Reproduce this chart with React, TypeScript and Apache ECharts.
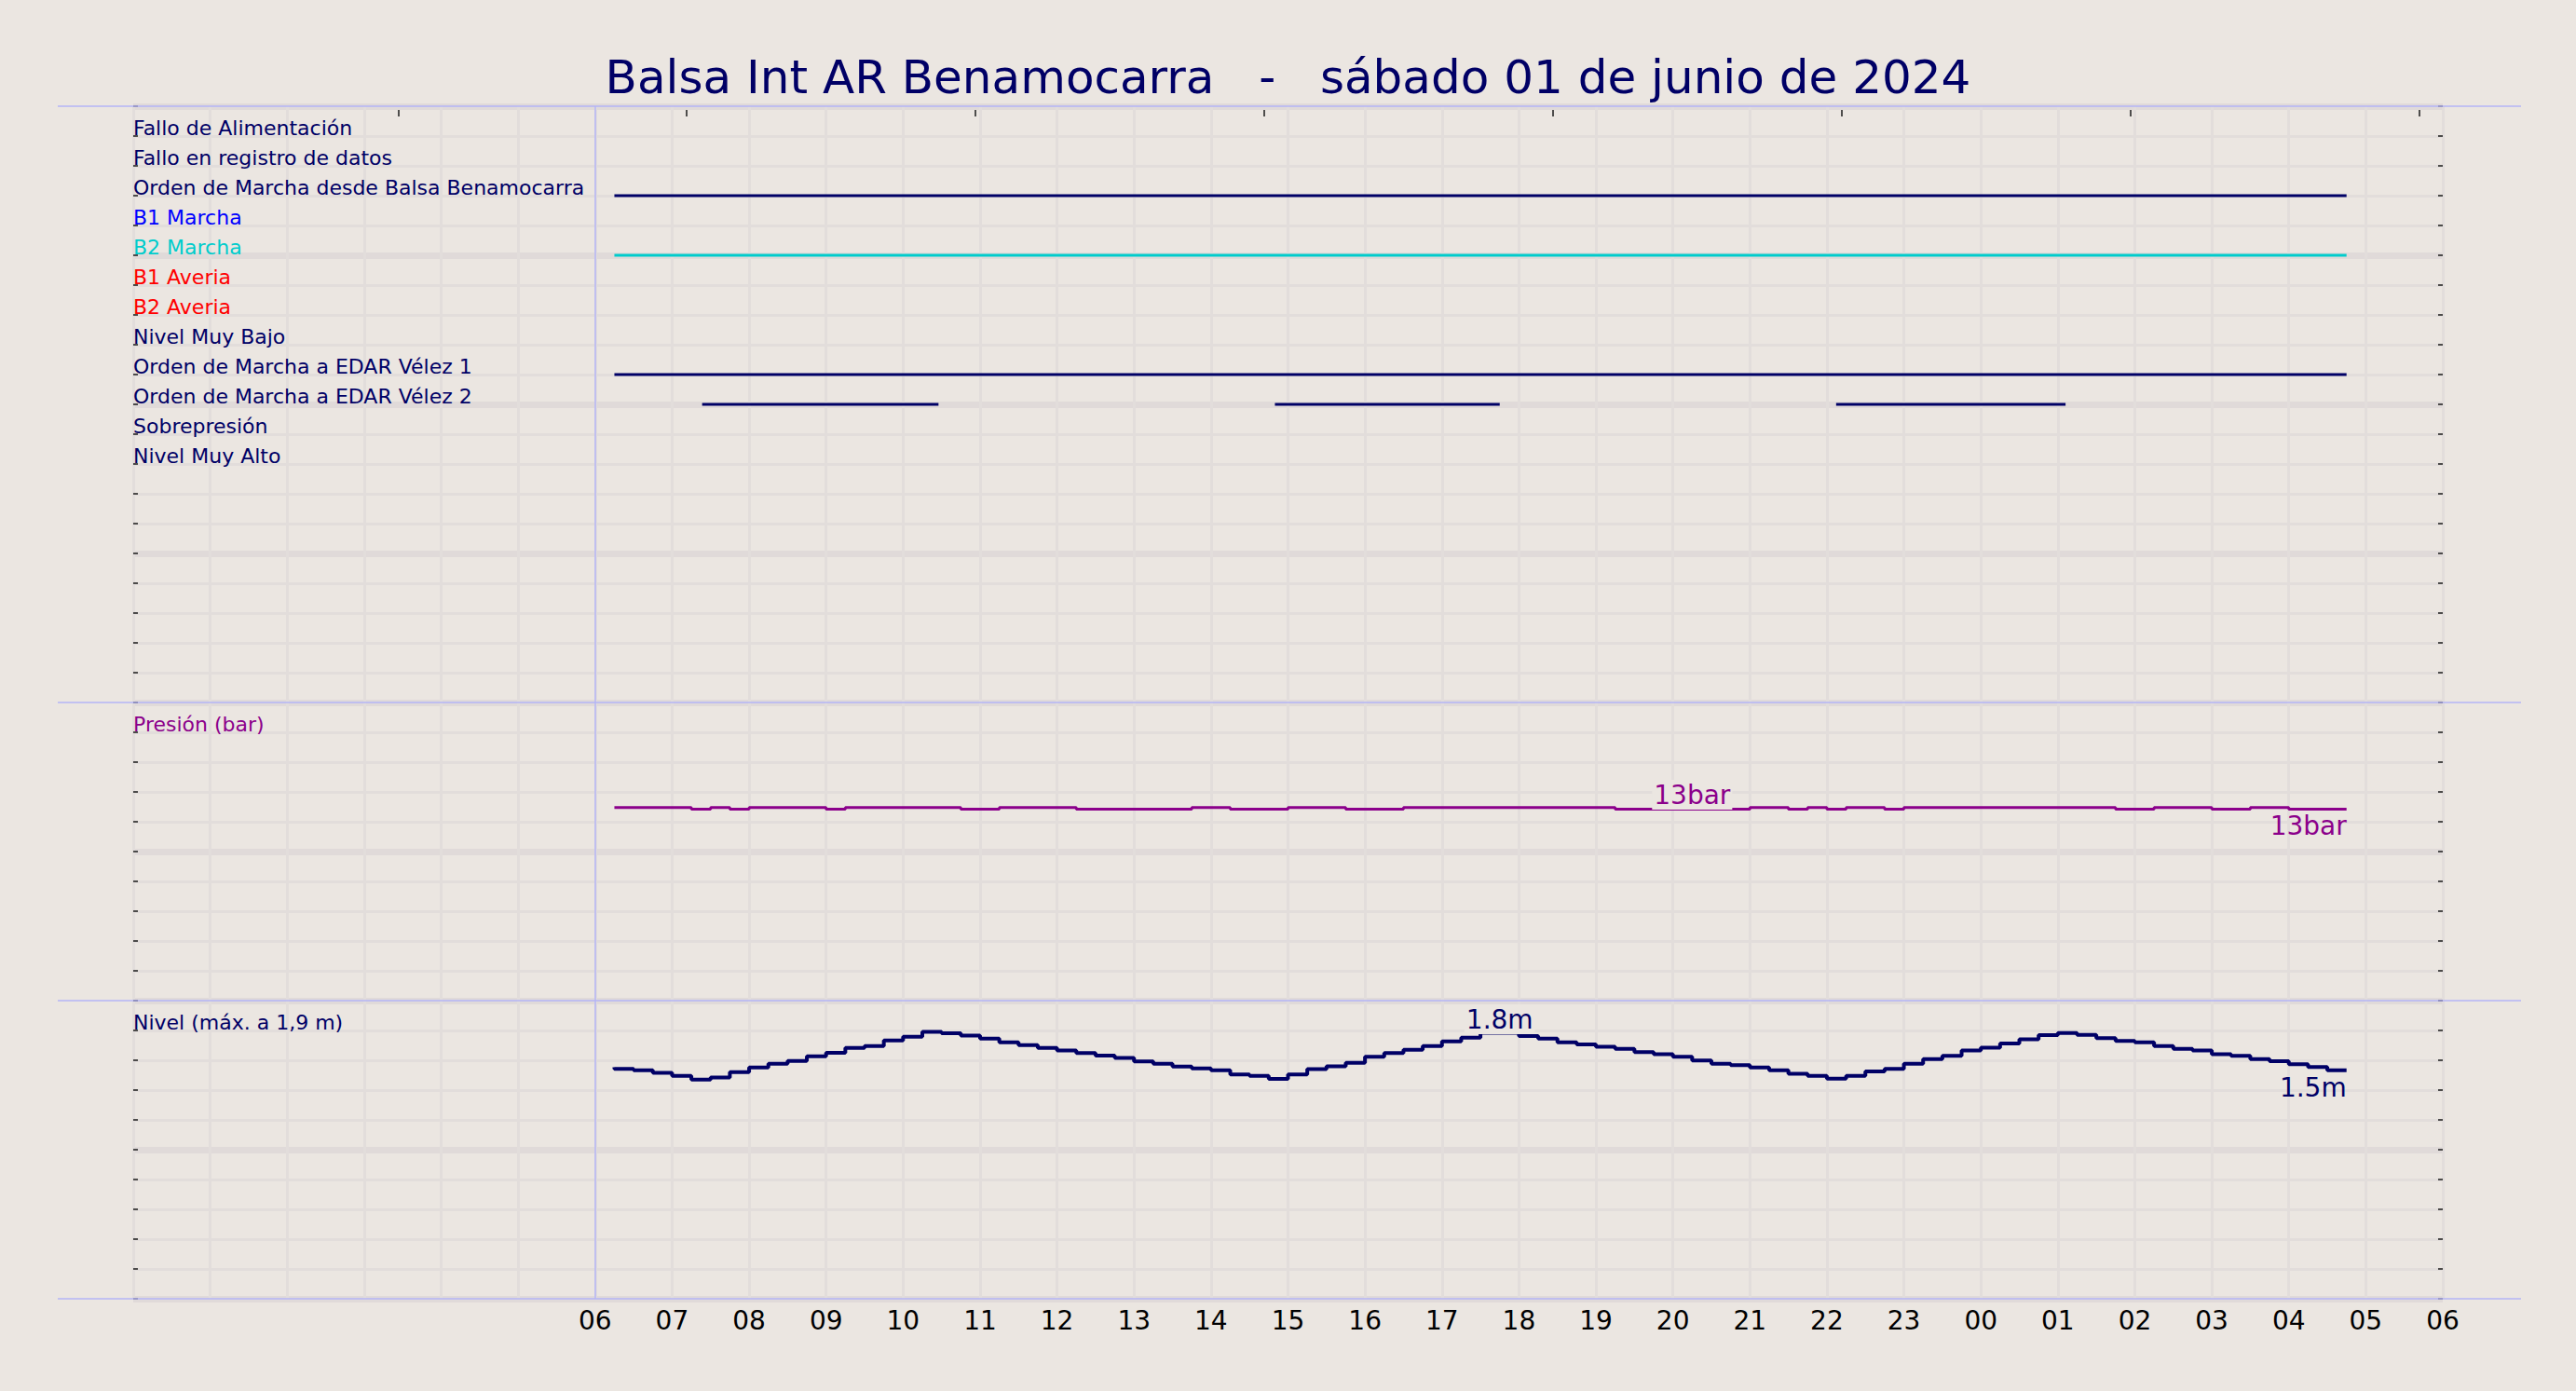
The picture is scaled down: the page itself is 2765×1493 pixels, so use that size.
import React, { useEffect, useRef } from "react";
import * as echarts from "echarts";

const NAVY = "#000066";
const PURPLE = "#8b008b";
const PAGE_BG = "#ebe6e1";
const GRID_LINE = "#e2dddb";
const GRID_MAJOR = "#e0dad9";
const FRAME_BLUE = "#b4b4f6";
const TICK = "#1a1a1a";
const FONT = "DejaVu Sans";

const titleText = "Balsa Int AR Benamocarra   -   sábado 01 de junio de 2024";

// digital channels, top to bottom
const signalNames = [
  "Fallo de Alimentación",
  "Fallo en registro de datos",
  "Orden de Marcha desde Balsa Benamocarra",
  "B1 Marcha",
  "B2 Marcha",
  "B1 Averia",
  "B2 Averia",
  "Nivel Muy Bajo",
  "Orden de Marcha a EDAR Vélez 1",
  "Orden de Marcha a EDAR Vélez 2",
  "Sobrepresión",
  "Nivel Muy Alto",
];
const signalColors = [
  NAVY, NAVY, NAVY, "#0000ff", "#00cccc", "#ff0000",
  "#ff0000", NAVY, NAVY, NAVY, NAVY, NAVY,
];
const firstSignalRow = 19;

const pressureTitle = "Presión (bar)";
const pressureTitleValue = 18;
const levelTitle = "Nivel (máx. a 1,9 m)";
const levelTitleValue = 1.8;

// labels under the bottom panel, 06 -> 06 next day
const hourLabels = [
  "06", "07", "08", "09", "10", "11", "12", "13", "14", "15", "16", "17",
  "18", "19", "20", "21", "22", "23", "00", "01", "02", "03", "04", "05", "06",
];
const firstLabelHour = 6;
const dayStartHour = 6;

// small marks along the top edge (hours from 00:00)
const topTickHours = [3.44, 7.19, 10.94, 14.69, 18.44, 22.19, 25.94, 29.69];

// on periods of the digital signals (hours from 00:00)
const balsaOrderOn = [[6.25, 28.75]];
const b2RunningOn = [[6.25, 28.75]];
const velez1OrderOn = [[6.25, 28.75]];
const velez2OrderOn = [[7.39, 10.46], [14.83, 17.75], [22.12, 25.1]];

// 15 min samples, 06:15 -> 04:45
const firstSampleHour = 6.25;
const sampleStepHours = 0.25;

const pressureBar = [
  12.95,
  12.95, 12.95, 12.95, 12.95, 12.85, 12.95, 12.85, 12.95, 12.95, 12.95,
  12.95, 12.85, 12.95, 12.95, 12.95, 12.95, 12.95, 12.95, 12.85, 12.85,
  12.95, 12.95, 12.95, 12.95, 12.85, 12.85, 12.85, 12.85, 12.85, 12.85,
  12.95, 12.95, 12.85, 12.85, 12.85, 12.95, 12.95, 12.95, 12.85, 12.85,
  12.85, 12.95, 12.95, 12.95, 12.95, 12.95, 12.95, 12.95, 12.95, 12.95,
  12.95, 12.95, 12.85, 12.85, 12.85, 12.85, 12.85, 12.85, 12.85, 12.95,
  12.95, 12.85, 12.95, 12.85, 12.95, 12.95, 12.85, 12.95, 12.95, 12.95,
  12.95, 12.95, 12.95, 12.95, 12.95, 12.95, 12.95, 12.95, 12.85, 12.85,
  12.95, 12.95, 12.95, 12.85, 12.85, 12.95, 12.95, 12.85, 12.85, 12.85,
];

const levelM = [
  1.553,
  1.542, 1.533, 1.515, 1.496, 1.471, 1.485, 1.521, 1.552, 1.577, 1.596,
  1.627, 1.65, 1.683, 1.696, 1.733, 1.758, 1.79, 1.781, 1.765, 1.746,
  1.721, 1.702, 1.683, 1.665, 1.648, 1.631, 1.615, 1.592, 1.577, 1.558,
  1.546, 1.533, 1.504, 1.496, 1.475, 1.504, 1.54, 1.56, 1.583, 1.623,
  1.648, 1.671, 1.696, 1.727, 1.752, 1.785, 1.785, 1.763, 1.746, 1.721,
  1.706, 1.69, 1.677, 1.654, 1.64, 1.623, 1.598, 1.577, 1.567, 1.552,
  1.533, 1.51, 1.496, 1.477, 1.496, 1.525, 1.542, 1.577, 1.608, 1.629,
  1.665, 1.685, 1.713, 1.74, 1.769, 1.783, 1.771, 1.748, 1.729, 1.721,
  1.696, 1.677, 1.665, 1.64, 1.629, 1.608, 1.594, 1.573, 1.554, 1.533,
];

const pressurePeakIndex = 56;
const levelPeakIndex = 46;

const PLOT_LEFT = 143;
const PLOT_WIDTH = 2479;
const panelTops = [114, 754, 1074];
const panelHeights = [640, 320, 320];
const FRAME_X1 = 62;
const FRAME_X2 = 2706;

const sampleTimes = levelM.map((_, i) => firstSampleHour + i * sampleStepHours);

const periodsToData = (periods: number[][], row: number) =>
  periods.flatMap(([s, e]) => [
    [s, row],
    [e, row],
    [e, null],
  ]);

const signalSeries = [
  { index: 2, periods: balsaOrderOn },
  { index: 4, periods: b2RunningOn },
  { index: 8, periods: velez1OrderOn },
  { index: 9, periods: velez2OrderOn },
];

const dayStartLine = {
  silent: true,
  symbol: ["none", "none"],
  label: { show: false },
  lineStyle: { color: FRAME_BLUE, width: 1.5, type: "solid" },
  data: [{ xAxis: dayStartHour }],
};

const hourAxis = (gridIndex: number, labels: boolean) => ({
  type: "value",
  gridIndex,
  position: "bottom",
  min: 0,
  max: 30,
  interval: 1,
  axisLine: { show: false, onZero: false },
  axisTick: { show: false },
  axisLabel: labels
    ? {
        show: true,
        margin: 9,
        fontSize: 28,
        fontFamily: FONT,
        color: "#000",
        showMinLabel: true,
        showMaxLabel: true,
        formatter: (v: number) =>
          v >= firstLabelHour ? hourLabels[Math.round(v) - firstLabelHour] : "",
      }
    : { show: false },
  splitLine: { show: true, lineStyle: { color: GRID_LINE, width: 3 } },
});

const rowAxes = (
  gridIndex: number,
  max: number,
  step: number,
  major: number,
  label: any
) => [
  {
    type: "value",
    gridIndex,
    position: "left",
    min: 0,
    max,
    interval: step,
    axisLine: { show: false, onZero: false },
    axisTick: { show: true, inside: true, length: 5, lineStyle: { color: TICK, width: 1.5 } },
    axisLabel: label,
    splitLine: { show: true, lineStyle: { color: GRID_LINE, width: 3 } },
  },
  {
    type: "value",
    gridIndex,
    position: "right",
    min: 0,
    max,
    interval: step,
    axisLine: { show: false, onZero: false },
    axisTick: { show: true, inside: true, length: 5, lineStyle: { color: TICK, width: 1.5 } },
    axisLabel: { show: false },
    splitLine: { show: false },
  },
  {
    type: "value",
    gridIndex,
    position: "left",
    min: 0,
    max,
    interval: major,
    axisLine: { show: false, onZero: false },
    axisTick: { show: false },
    axisLabel: { show: false },
    splitLine: { show: true, lineStyle: { color: GRID_MAJOR, width: 7 } },
  },
];

const panelLabel = (text: string, value: number, color: string) => ({
  show: true,
  inside: true,
  margin: 0,
  fontSize: 22,
  fontFamily: FONT,
  color,
  verticalAlign: "bottom",
  lineHeight: 18,
  formatter: (v: number) => (Math.abs(v - value) < 1e-6 ? text : ""),
});

const buildOption = (): any => {
  const lastIdx = levelM.length - 1;
  return {
    animation: false,
    backgroundColor: PAGE_BG,
    textStyle: { fontFamily: FONT },
    title: {
      text: titleText,
      left: "center",
      top: 58,
      padding: 0,
      textStyle: { fontSize: 50, fontWeight: "normal", color: NAVY, fontFamily: FONT },
    },
    grid: panelTops.map((top, i) => ({
      left: PLOT_LEFT,
      width: PLOT_WIDTH,
      top,
      height: panelHeights[i],
      containLabel: false,
      outerBoundsMode: "none",
    })),
    xAxis: [
      hourAxis(0, false),
      {
        type: "value",
        gridIndex: 0,
        position: "top",
        offset: -4,
        min: 0,
        max: 30,
        axisLine: { show: false, onZero: false },
        axisLabel: { show: false },
        splitLine: { show: false },
        axisTick: {
          show: true,
          inside: true,
          length: 7,
          customValues: topTickHours,
          lineStyle: { color: TICK, width: 1.5 },
        },
      },
      hourAxis(1, false),
      hourAxis(2, true),
    ],
    yAxis: [
      ...rowAxes(0, 20, 1, 5, {
        show: true,
        inside: true,
        margin: 0,
        fontSize: 22,
        fontFamily: FONT,
        verticalAlign: "bottom",
        lineHeight: 18,
        color: (v: number) => signalColors[firstSignalRow - v] ?? NAVY,
        formatter: (v: number) => signalNames[firstSignalRow - v] ?? "",
      }),
      ...rowAxes(1, 20, 2, 10, panelLabel(pressureTitle, pressureTitleValue, PURPLE)),
      ...rowAxes(2, 2, 0.2, 1, panelLabel(levelTitle, levelTitleValue, NAVY)),
    ],
    series: [
      ...signalSeries.map((s, k) => ({
        type: "line",
        name: signalNames[s.index],
        xAxisIndex: 0,
        yAxisIndex: 0,
        showSymbol: false,
        connectNulls: false,
        lineStyle: { color: signalColors[s.index], width: 3 },
        itemStyle: { color: signalColors[s.index] },
        data: periodsToData(s.periods, firstSignalRow - s.index),
        markLine: k === 0 ? dayStartLine : undefined,
      })),
      {
        type: "line",
        name: pressureTitle,
        xAxisIndex: 2,
        yAxisIndex: 3,
        step: "start",
        showSymbol: false,
        lineStyle: { color: PURPLE, width: 3 },
        itemStyle: { color: PURPLE },
        data: sampleTimes.map((t, i) => [t, pressureBar[i]]),
        markLine: dayStartLine,
        markPoint: {
          symbol: "circle",
          symbolSize: 1,
          itemStyle: { color: "transparent" },
          label: { fontSize: 28, fontFamily: FONT, color: PURPLE },
          data: [
            {
              coord: [sampleTimes[pressurePeakIndex], pressureBar[pressurePeakIndex]],
              label: {
                position: "top",
                distance: -1,
                backgroundColor: PAGE_BG,
                padding: [3, 2, 1, 2],
                formatter: () => `${Math.round(pressureBar[pressurePeakIndex])}bar`,
              },
            },
            {
              coord: [sampleTimes[lastIdx], pressureBar[lastIdx]],
              label: {
                position: "bottom",
                align: "right",
                distance: 4,
                formatter: () => `${Math.round(pressureBar[lastIdx])}bar`,
              },
            },
          ],
        },
      },
      {
        type: "line",
        name: levelTitle,
        xAxisIndex: 3,
        yAxisIndex: 6,
        step: "start",
        showSymbol: false,
        lineStyle: { color: NAVY, width: 4 },
        itemStyle: { color: NAVY },
        data: sampleTimes.map((t, i) => [t, levelM[i]]),
        markLine: dayStartLine,
        markPoint: {
          symbol: "circle",
          symbolSize: 1,
          itemStyle: { color: "transparent" },
          label: { fontSize: 28, fontFamily: FONT, color: NAVY },
          data: [
            {
              coord: [sampleTimes[levelPeakIndex], levelM[levelPeakIndex]],
              label: {
                position: "top",
                distance: -2,
                backgroundColor: PAGE_BG,
                padding: [3, 2, 1, 2],
                formatter: () => `${levelM[levelPeakIndex].toFixed(1)}m`,
              },
            },
            {
              coord: [sampleTimes[lastIdx], levelM[lastIdx]],
              label: {
                position: "bottom",
                align: "right",
                distance: 4,
                formatter: () => `${levelM[lastIdx].toFixed(1)}m`,
              },
            },
          ],
        },
      },
    ],
    graphic: [114, 754, 1074, 1394].map((y) => ({
      type: "line",
      z: 10,
      silent: true,
      shape: { x1: FRAME_X1, y1: y, x2: FRAME_X2, y2: y },
      style: { stroke: FRAME_BLUE, lineWidth: 1.5 },
    })),
  };
};

const App: React.FC = () => {
  const chartRef = useRef<HTMLDivElement>(null);

  useEffect(() => {
    if (!chartRef.current) return;
    const chart = echarts.init(chartRef.current, undefined, { renderer: "svg" });
    chart.setOption(buildOption());
    return () => {
      chart.dispose();
    };
  }, []);

  return (
    <div
      ref={chartRef}
      style={{
        position: "absolute",
        left: 0,
        top: 0,
        width: 2765,
        height: 1493,
        background: PAGE_BG,
      }}
      aria-label="Balsa Int AR Benamocarra daily signals"
    />
  );
};

export default App;
